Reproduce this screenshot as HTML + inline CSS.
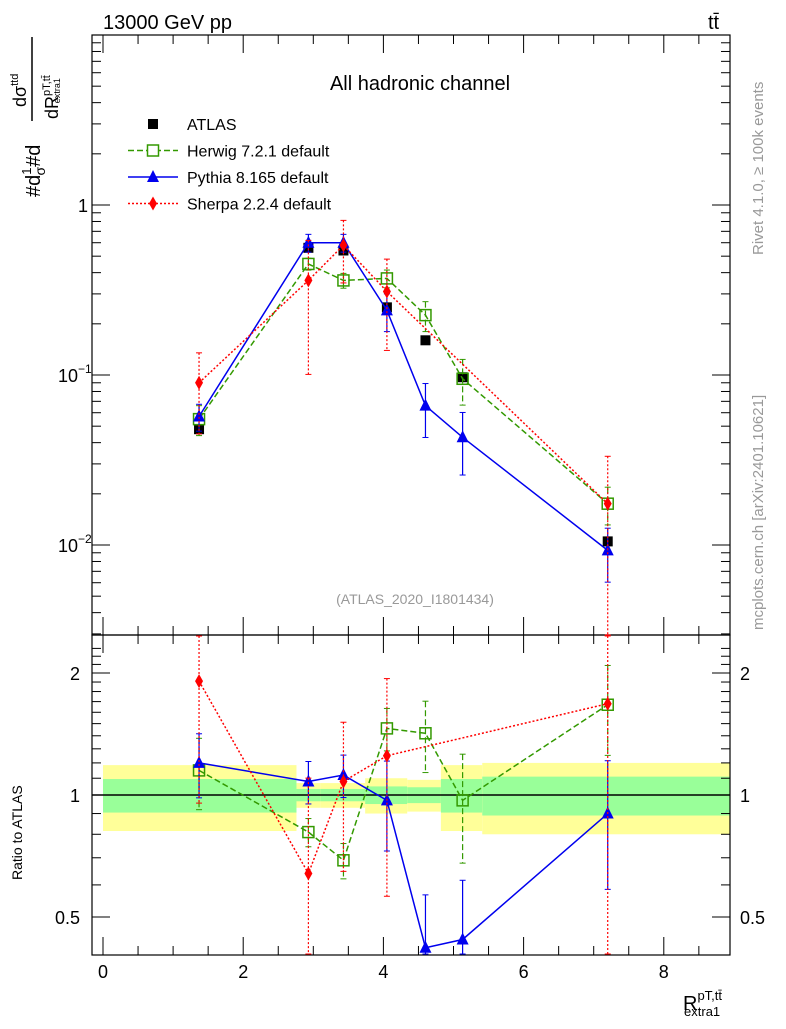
<!DOCTYPE html>
<html><head><meta charset="utf-8"><style>
body{margin:0;background:#fff}
svg{font-family:"Liberation Sans",sans-serif}
</style></head><body>
<svg id="c" width="786" height="1024" viewBox="0 0 786 1024">
<text x="103" y="29" font-size="20">13000 GeV pp</text>
<text x="708" y="29" font-size="20">tt̄</text>
<text x="420" y="90" font-size="20" text-anchor="middle">All hadronic channel</text>
<text x="415" y="604" font-size="14" fill="#999" text-anchor="middle">(ATLAS_2020_I1801434)</text>
<text transform="translate(763,255) rotate(-90)" font-size="15" fill="#999">Rivet 4.1.0, ≥ 100k events</text>
<text transform="translate(763,630) rotate(-90)" font-size="15" fill="#999">mcplots.cern.ch [arXiv:2401.10621]</text>
<g transform="translate(40,197) rotate(-90)">
<text x="0" y="0" font-size="20">#d<tspan font-size="13" dy="-9">1</tspan><tspan dx="-8" dy="14" font-size="14">σ</tspan><tspan dy="-5">#d</tspan></text>
<text x="90" y="-14" font-size="18">dσ<tspan font-size="11" dy="-8">ttd</tspan></text>
<line x1="76" y1="-8" x2="160" y2="-8" stroke="#000" stroke-width="1.5"/>
<text x="78" y="18" font-size="18">dR<tspan font-size="11" dy="-8">pT,tt̄</tspan><tspan font-size="9" dx="-28" dy="10">extra1</tspan></text>
</g>
<text x="22" y="880" transform="rotate(-90 22 880)" font-size="14" text-anchor="start">Ratio to ATLAS</text>
<text x="683" y="1010" font-size="20">R<tspan font-size="13" dy="-10">pT,tt̄</tspan><tspan font-size="13" dx="-38" dy="16">extra1</tspan></text>
<g id="g"></g>
</svg>
<script>
const xs=[1.37,2.93,3.43,4.05,4.6,5.13,7.2];
const atlas=[0.048,0.56,0.54,0.25,0.16,0.097,0.0105];
const herwig=[0.055,0.45,0.36,0.37,0.225,0.095,0.0175];
const herwigErr=[0.2,0.08,0.1,0.12,0.2,0.3,0.25];
const pythia=[0.057,0.6,0.6,0.24,0.066,0.043,0.0093];
const pythiaErr=[0.18,0.12,0.12,0.25,0.35,0.4,0.35];
const sherpaX=[1.37,2.93,3.43,4.05,7.2];
const sherpa=[0.09,0.36,0.58,0.31,0.0175];
const sherpaErr=[0.5,0.72,0.4,0.55,0.9];
const ratioHerwig=[1.15,0.81,0.69,1.46,1.42,0.97,1.67];
const ratioPythia=[1.2,1.08,1.12,0.97,0.42,0.44,0.9];
const ratioSherpa=[1.91,0.64,1.08,1.25,1.68];
const binEdges=[0,2.76,3.1,3.74,4.34,4.82,5.41,8.95];
const bandYellow=[0.185,0.07,0.07,0.1,0.09,0.185,0.2];
const bandGreen=[0.095,0.035,0.035,0.05,0.045,0.095,0.11];
const xTicks=[0,2,4,6,8];
const ratioTicks=[0.5,1,2];
const g=document.getElementById('g');
const NS='http://www.w3.org/2000/svg';
const X=v=>103+v*70.1;
const Y=v=>205-Math.log10(v)*170;
const R=v=>795-Math.log2(v)*122;
function el(t,a,p){const e=document.createElementNS(NS,t);for(const k in a)e.setAttribute(k,a[k]);(p||g).appendChild(e);return e;}
binEdges.slice(0,-1).forEach((b,i)=>{
 const x1=X(b),x2=X(binEdges[i+1]);
 const y=el('rect',{x:x1,y:R(1+bandYellow[i]),width:x2-x1,height:R(1-bandYellow[i])-R(1+bandYellow[i]),fill:'#ffff99'});
 
 
 const gr=el('rect',{x:x1,y:R(1+bandGreen[i]),width:x2-x1,height:R(1-bandGreen[i])-R(1+bandGreen[i]),fill:'#99ff99'});
 
 
});
el('line',{x1:92,x2:730,y1:R(1),y2:R(1),stroke:'#000','stroke-width':1.5});
el('rect',{x:92,y:35,width:638,height:600,fill:'none',stroke:'#000','stroke-width':1.2});
el('rect',{x:92,y:635,width:638,height:320,fill:'none',stroke:'#000','stroke-width':1.2});
for(let d=-3;d<1;d++)for(let m=1;m<10;m++){const v=m*Math.pow(10,d);const y=Y(v);if(y<35||y>635)continue;const L=m==1?18:9;
 el('line',{x1:92,x2:92+L,y1:y,y2:y,stroke:'#000'});el('line',{x1:730,x2:730-L,y1:y,y2:y,stroke:'#000'});}
[[1,'1'],[0.1,'10'],[0.01,'10']].forEach((t,i)=>{const tx=el('text',{x:i?58:78,y:Y(t[0])+7,'font-size':18});tx.textContent=t[1];
 
 
 if(i){const s=el('tspan',{dy:-9,'font-size':12},tx);s.textContent='−'+i;}});
for(let v=0.4;v<=2.4;v+=0.1){const y=R(v);if(y<636||y>955)continue;const major=[0.5,1,2].some(t=>Math.abs(t-v)<1e-6);const L=major?18:9;
 el('line',{x1:92,x2:92+L,y1:y,y2:y,stroke:'#000'});el('line',{x1:730,x2:730-L,y1:y,y2:y,stroke:'#000'});}
ratioTicks.forEach(t=>{[[80,'end'],[740,'start']].forEach(p=>{const tx=el('text',{x:p[0],y:R(t)+7,'font-size':18,'text-anchor':p[1]});tx.textContent=t;
 
 });});
for(let v=0;v<=8.9;v+=0.5){const x=X(v);const L=Math.abs(v%2)<1e-6?18:9;
 [[35,1],[635,-1],[635,1],[955,-1]].forEach(p=>el('line',{x1:x,x2:x,y1:p[0],y2:p[0]+p[1]*L,stroke:'#000'}));}
xTicks.forEach(t=>{const tx=el('text',{x:X(t),y:978,'font-size':18,'text-anchor':'middle'});tx.textContent=t;
 
 });
function series(xa,va,err,col,dash,shape,name,fy,clipTop,clipBot,noLine){
 const pts=xa.map((x,i)=>[X(x),fy(va[i])]);
 if(!noLine){
 const pl=el('polyline',{points:pts.map(p=>p.join(',')).join(' '),fill:'none',stroke:col,'stroke-width':1.5,'stroke-dasharray':dash});
 
 
 }
 pts.forEach((p,i)=>{
  if(err){let y1=fy(va[i]*(1+err[i])),y2=fy(Math.max(va[i]*(1-err[i]),1e-6));y1=Math.max(y1,clipTop);y2=Math.min(y2,clipBot);
   el('line',{x1:p[0],x2:p[0],y1:y1,y2:y2,stroke:col,'stroke-width':1.2,'stroke-dasharray':dash});
   el('line',{x1:p[0]-3,x2:p[0]+3,y1:y1,y2:y1,stroke:col});el('line',{x1:p[0]-3,x2:p[0]+3,y1:y2,y2:y2,stroke:col});}
  if(p[1]<clipTop||p[1]>clipBot)return;
  let m;
  if(shape=='sq')m=el('rect',{x:p[0]-5,y:p[1]-5,width:10,height:10,fill:'#000'});
  else if(shape=='osq')m=el('rect',{x:p[0]-5.5,y:p[1]-5.5,width:11,height:11,fill:'none',stroke:col,'stroke-width':1.5});
  else if(shape=='tri')m=el('polygon',{points:`${p[0]},${p[1]-7} ${p[0]-6},${p[1]+5} ${p[0]+6},${p[1]+5}`,fill:col});
  else m=el('polygon',{points:`${p[0]},${p[1]-7} ${p[0]-4},${p[1]} ${p[0]},${p[1]+7} ${p[0]+4},${p[1]}`,fill:col});
  
  
 });
}
series(xs,atlas,null,'#000','','sq','atlas',Y,35,635,true);
series(xs,herwig,herwigErr,'#339900','6,3','osq','herwig',Y,35,635);
series(xs,pythia,pythiaErr,'#0000ee','','tri','pythia',Y,35,635);
series(sherpaX,sherpa,sherpaErr,'#ff0000','2,2','dia','sherpa',Y,35,635);
series(xs,ratioHerwig,herwigErr,'#339900','6,3','osq','ratio-herwig',R,636,954);
series(xs,ratioPythia,pythiaErr,'#0000ee','','tri','ratio-pythia',R,636,954);
series(sherpaX,ratioSherpa,sherpaErr,'#ff0000','2,2','dia','ratio-sherpa',R,636,954);
const leg=[['ATLAS','#000','','sq'],['Herwig 7.2.1 default','#339900','6,3','osq'],['Pythia 8.165 default','#0000ee','','tri'],['Sherpa 2.2.4 default','#ff0000','2,2','dia']];
leg.forEach((l,i)=>{const y=124+i*26.5;
 if(i)el('line',{x1:128,x2:178,y1:y,y2:y,stroke:l[1],'stroke-width':1.5,'stroke-dasharray':l[2]});
 const x=153;let m;
 if(l[3]=='sq')m=el('rect',{x:x-5,y:y-5,width:10,height:10,fill:'#000'});
 else if(l[3]=='osq')m=el('rect',{x:x-5.5,y:y-5.5,width:11,height:11,fill:'#fff',stroke:l[1],'stroke-width':1.5});
 else if(l[3]=='tri')m=el('polygon',{points:`${x},${y-7} ${x-6},${y+5} ${x+6},${y+5}`,fill:l[1]});
 else m=el('polygon',{points:`${x},${y-7} ${x-4},${y} ${x},${y+7} ${x+4},${y}`,fill:l[1]});
 
 
 const t=el('text',{x:187,y:y+6,'font-size':16});t.textContent=l[0];
 
 
});
</script>
</body></html>
